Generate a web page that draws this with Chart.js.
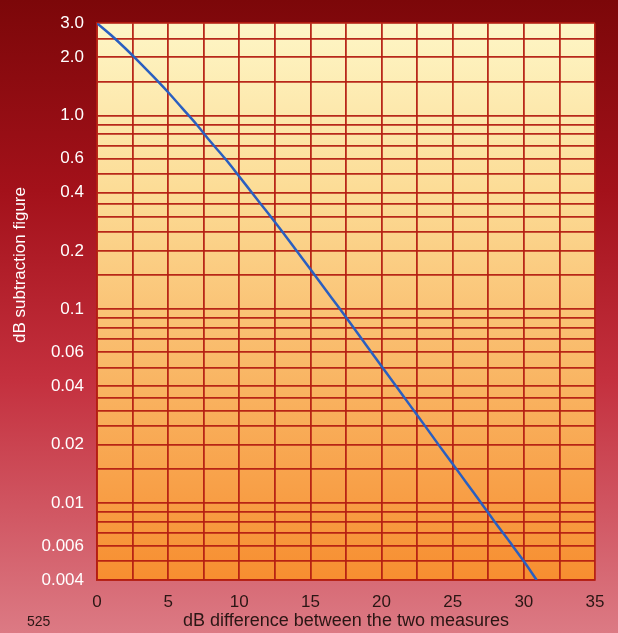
<!DOCTYPE html>
<html>
<head>
<meta charset="utf-8">
<script src="https://cdn.jsdelivr.net/npm/chart.js@4/dist/chart.umd.min.js"></script>
<style>
  html, body { margin: 0; padding: 0; background: #a8141c; }
  #wrap { width: 618px; height: 633px; position: relative; }
</style>
</head>
<body>
<div id="wrap"><canvas id="chart"></canvas></div>
<script>
// dB difference between the two measures (x) and the figure to subtract (y)
const xDb = [0, 1, 2, 3, 4, 5, 6, 7, 8, 9, 10, 11, 12, 13, 14, 15, 16, 17, 18, 19, 20,
  21, 22, 23, 24, 25, 26, 27, 28, 29, 30, 30.9];
const subtraction = [3.0, 2.6, 2.22, 1.88, 1.58, 1.32, 1.09, 0.9, 0.73, 0.6, 0.485,
  0.39, 0.315, 0.253, 0.202, 0.161, 0.128, 0.102, 0.081, 0.064, 0.0508,
  0.0403, 0.0319, 0.0253, 0.02, 0.0159, 0.0126, 0.01, 0.0079, 0.0063, 0.005, 0.004];

// horizontal grid lines and the ones that carry a label
const yGridValues = [3, 2.5, 2, 1.5, 1, 0.9, 0.8, 0.7, 0.6, 0.5, 0.4, 0.35, 0.3, 0.25, 0.2, 0.15,
  0.1, 0.09, 0.08, 0.07, 0.06, 0.05, 0.04, 0.035, 0.03, 0.025, 0.02, 0.015,
  0.01, 0.009, 0.008, 0.007, 0.006, 0.005, 0.004];
const yLabelValues = [3, 2, 1, 0.6, 0.4, 0.2, 0.1, 0.06, 0.04, 0.02, 0.01, 0.006, 0.004];
const xLabelValues = [0, 5, 10, 15, 20, 25, 30, 35];

const FONT = '"Liberation Sans", Arial, sans-serif';
const gridColor = 'rgba(180, 30, 18, 0.95)';

const backdrop = {
  id: 'backdrop',
  beforeDraw(chart) {
    const ctx = chart.ctx, a = chart.chartArea;
    ctx.save();
    let g = ctx.createLinearGradient(0, 0, 0, chart.height);
    g.addColorStop(0, '#7c0709');
    g.addColorStop(0.3, '#a3111a');
    g.addColorStop(0.6, '#c4303e');
    g.addColorStop(1, '#dc7a84');
    ctx.fillStyle = g;
    ctx.fillRect(0, 0, chart.width, chart.height);
    g = ctx.createLinearGradient(0, a.top, 0, a.bottom);
    g.addColorStop(0, '#fef6c6');
    g.addColorStop(0.3, '#fcdc96');
    g.addColorStop(0.65, '#f9b462');
    g.addColorStop(1, '#f78e30');
    ctx.fillStyle = g;
    ctx.fillRect(a.left, a.top, a.right - a.left, a.bottom - a.top);
    ctx.restore();
  },
  afterDraw(chart) {
    const ctx = chart.ctx;
    ctx.save();
    ctx.fillStyle = '#ffffff';
    ctx.font = '17px ' + FONT;
    ctx.textAlign = 'center';
    ctx.textBaseline = 'middle';
    ctx.translate(20, 265);
    ctx.rotate(-Math.PI / 2);
    ctx.fillText('dB subtraction figure', 0, 0);
    ctx.restore();
    ctx.save();
    ctx.fillStyle = '#2a1614';
    ctx.font = '14px ' + FONT;
    ctx.textBaseline = 'middle';
    ctx.fillText('525', 27, 622);
    ctx.restore();
  }
};

new Chart('chart', {
  type: 'line',
  data: {
    datasets: [{
      data: xDb.map((x, i) => ({ x: x, y: subtraction[i] })),
      borderColor: '#2a5fc0',
      borderWidth: 2.5,
      pointRadius: 0,
      cubicInterpolationMode: 'monotone',
      fill: false
    }]
  },
  options: {
    responsive: true,
    maintainAspectRatio: false,
    animation: false,
    layout: { padding: { top: 20, right: 23, left: 0, bottom: 0 } },
    plugins: { legend: { display: false }, tooltip: { enabled: false } },
    scales: {
      x: {
        type: 'linear',
        min: 0,
        max: 35,
        afterFit(scale) { scale.height = 53; },
        afterBuildTicks(scale) {
          const t = [];
          for (let v = 0; v <= 35; v += 2.5) t.push({ value: v });
          scale.ticks = t;
        },
        ticks: {
          autoSkip: false,
          maxRotation: 0,
          padding: 12,
          color: '#2a1614',
          font: { family: FONT, size: 17 },
          callback: v => xLabelValues.includes(v) ? String(v) : ''
        },
        grid: { color: gridColor, lineWidth: 1.8, drawTicks: false },
        border: { color: gridColor, width: 1.8 },
        title: {
          display: true,
          text: 'dB difference between the two measures',
          color: '#2a1614',
          font: { family: FONT, size: 18 },
          padding: { top: 0, bottom: 1 }
        }
      },
      y: {
        type: 'logarithmic',
        min: 0.004,
        max: 3,
        afterFit(scale) { scale.width = 97; },
        afterBuildTicks(scale) {
          scale.ticks = yGridValues.map(v => ({ value: v }));
        },
        ticks: {
          autoSkip: false,
          padding: 13,
          color: '#ffffff',
          font: { family: FONT, size: 17 },
          callback: v => yLabelValues.includes(v) ? (v >= 1 ? v.toFixed(1) : String(v)) : ''
        },
        grid: { color: gridColor, lineWidth: 1.8, drawTicks: false },
        border: { color: gridColor, width: 1.8 }
      }
    }
  },
  plugins: [backdrop]
});
</script>
</body>
</html>
